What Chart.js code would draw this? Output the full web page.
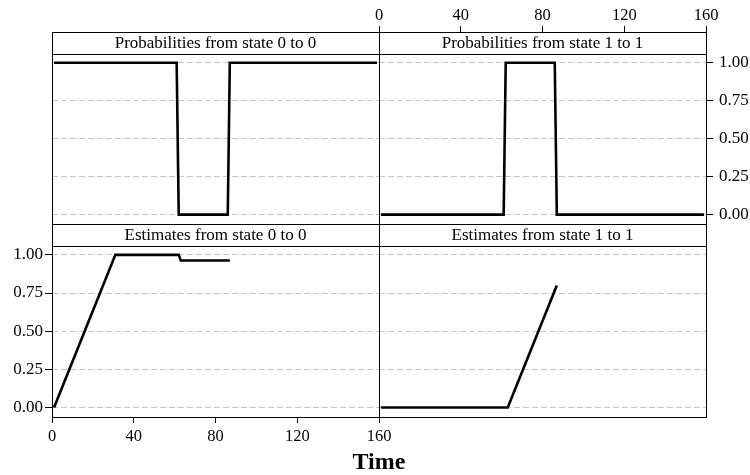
<!DOCTYPE html>
<html><head><meta charset="utf-8">
<script src="https://cdn.jsdelivr.net/npm/chart.js@4/dist/chart.umd.min.js"></script>
<style>
html,body{margin:0;padding:0;background:#fff;}
#wrap{position:relative;width:750px;height:475px;overflow:hidden;background:#fff;}
canvas{position:absolute;left:0;top:0;}
#xtitle{position:absolute;left:0;width:758px;top:449px;text-align:center;font:bold 24px/24px 'Liberation Serif','Times New Roman',serif;color:#000;}
</style></head><body>
<div id="wrap">
<canvas id="cTL" width="750" height="475"></canvas>
<canvas id="cTR" width="750" height="475"></canvas>
<canvas id="cBL" width="750" height="475"></canvas>
<canvas id="cBR" width="750" height="475"></canvas>
<div id="xtitle">Time</div>
</div>
<script>
// ---- data ----
const xTicks = [0, 40, 80, 120, 160];
const xTickLabels = ['0', '40', '80', '120', '160'];
const yTicks = [0, 0.25, 0.5, 0.75, 1];
const yTickLabels = ['0.00', '0.25', '0.50', '0.75', '1.00'];
const panelTitles = ['Probabilities from state 0 to 0', 'Probabilities from state 1 to 1',
                     'Estimates from state 0 to 0', 'Estimates from state 1 to 1'];

const probTime00 = [1, 61, 62, 86, 87, 159];
const probValue00 = [1, 1, 0, 0, 1, 1];
const probTime11 = [1, 61, 62, 86, 87, 159];
const probValue11 = [0, 0, 1, 1, 0, 0];
const estTime00 = [1, 31, 62, 63, 87];
const estValue00 = [0, 1, 1, 0.963, 0.963];
const estTime11 = [1, 63, 87];
const estValue11 = [0, 0, 0.8];

const xTitle = 'Time';

// ---- drawing ----
const FONT = "'Liberation Serif','Times New Roman',serif";
Chart.defaults.font.family = FONT;
Chart.defaults.font.size = 16;
Chart.defaults.color = '#000';

const STRIP = 22;
const Y_MIN = -0.062, Y_MAX = 1.058;

const panelPlugin = {
  id: 'panel',
  afterLayout(chart, args, opts) {
    if (opts.shiftTopAxis) {
      const s = chart.scales.x;
      s.top -= STRIP; s.bottom -= STRIP;
    }
  },
  afterDraw(chart, args, opts) {
    const {ctx, chartArea: a} = chart;
    ctx.save();
    ctx.strokeStyle = '#000';
    ctx.lineWidth = 1;
    ctx.setLineDash([]);
    ctx.strokeRect(a.left + 0.5, a.top + 0.5, a.right - a.left, a.bottom - a.top);
    ctx.fillStyle = '#fff';
    ctx.fillRect(a.left, a.top - STRIP, a.right - a.left, STRIP);
    ctx.strokeRect(a.left + 0.5, a.top - STRIP + 0.5, a.right - a.left, STRIP);
    ctx.fillStyle = '#000';
    ctx.font = '17px ' + FONT;
    ctx.textAlign = 'center';
    ctx.textBaseline = 'middle';
    ctx.fillText(opts.label, (a.left + a.right) / 2, a.top - STRIP / 2 + 1);
    ctx.restore();
  }
};

function fitTo(size) {
  return s => {
    s.paddingLeft = 0; s.paddingRight = 0; s.paddingTop = 0; s.paddingBottom = 0;
    if (s.isHorizontal()) s.height = size; else s.width = size;
  };
}

function makePanel(id, times, values, label, o) {
  const pts = times.map((t, i) => ({x: t, y: values[i]}));
  new Chart(document.getElementById(id), {
    type: 'line',
    data: {datasets: [{data: pts, borderColor: '#000', borderWidth: 2.6, pointRadius: 0,
      tension: 0, fill: false, borderJoinStyle: 'miter', borderCapStyle: 'butt'}]},
    options: {
      responsive: false, animation: false, devicePixelRatio: 1,
      layout: {padding: o.pad},
      plugins: {legend: {display: false}, tooltip: {enabled: false},
        panel: {label: label, shiftTopAxis: o.xPos === 'top'}},
      scales: {
        x: {
          type: 'linear', min: 0, max: 160, display: !!o.xPos, position: o.xPos || 'bottom',
          afterBuildTicks: s => { s.ticks = xTicks.map(v => ({value: v})); },
          afterFit: fitTo(o.xSize || 0),
          ticks: {callback: (v, i) => xTickLabels[i], padding: o.xPad || 0, maxRotation: 0, autoSkip: false,
                  font: {size: 16.5}},
          grid: {drawOnChartArea: false, drawTicks: true, tickLength: 6, tickColor: '#000', tickWidth: 1},
          border: {display: false}
        },
        y: {
          type: 'linear', min: Y_MIN, max: Y_MAX, position: o.yPos || 'left',
          afterBuildTicks: s => { s.ticks = yTicks.map(v => ({value: v})); },
          afterFit: fitTo(o.ySize || 0),
          ticks: {display: !!o.yPos, callback: (v, i) => yTickLabels[i], padding: o.yPad || 3,
                  autoSkip: false, font: {size: 17}},
          grid: {drawOnChartArea: true, color: '#c4c4c4', lineWidth: 1,
                 drawTicks: !!o.yPos, tickLength: 7, tickColor: '#000', tickWidth: 1, tickBorderDash: []},
          border: {display: false, dash: [6, 3]}
        }
      }
    },
    plugins: [panelPlugin]
  });
}

makePanel('cTL', probTime00, probValue00, panelTitles[0],
  {pad: {left: 52, right: 371, top: 54, bottom: 251}});
makePanel('cTR', probTime11, probValue11, panelTitles[1],
  {pad: {left: 379, right: 0, top: 22, bottom: 251}, xPos: 'top', yPos: 'right',
   xSize: 32, ySize: 44, xPad: 0.01, yPad: 6});
makePanel('cBL', estTime00, estValue00, panelTitles[2],
  {pad: {left: 0, right: 371, top: 246, bottom: 0}, xPos: 'bottom', yPos: 'left',
   xSize: 58, ySize: 52, xPad: 4, yPad: 2});
makePanel('cBR', estTime11, estValue11, panelTitles[3],
  {pad: {left: 379, right: 44, top: 246, bottom: 58}});
document.getElementById('xtitle').textContent = xTitle;
</script>
</body></html>
